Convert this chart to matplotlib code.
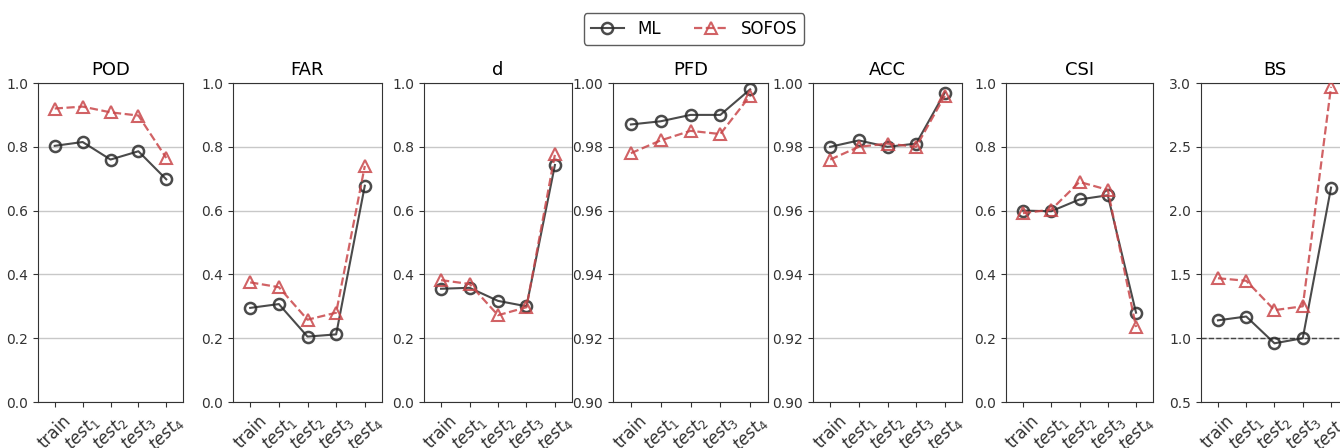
import numpy as np
import matplotlib
matplotlib.use("Agg")
import matplotlib.pyplot as plt

splits = ["train", "$test_1$", "$test_2$", "$test_3$", "$test_4$"]
metrics = ["POD", "FAR", "d", "PFD", "ACC", "CSI", "BS"]

ml = {
    "POD": [0.803, 0.815, 0.760, 0.786, 0.698],
    "FAR": [0.295, 0.307, 0.205, 0.212, 0.678],
    "d":   [0.355, 0.358, 0.317, 0.300, 0.743],
    "PFD": [0.987, 0.988, 0.990, 0.990, 0.998],
    "ACC": [0.980, 0.982, 0.980, 0.981, 0.997],
    "CSI": [0.600, 0.598, 0.635, 0.648, 0.280],
    "BS":  [1.14, 1.17, 0.96, 1.00, 2.18],
}
sofos = {
    "POD": [0.920, 0.926, 0.908, 0.898, 0.765],
    "FAR": [0.375, 0.360, 0.258, 0.280, 0.740],
    "d":   [0.382, 0.370, 0.272, 0.297, 0.776],
    "PFD": [0.978, 0.982, 0.985, 0.984, 0.996],
    "ACC": [0.976, 0.980, 0.981, 0.980, 0.996],
    "CSI": [0.592, 0.603, 0.690, 0.665, 0.235],
    "BS":  [1.47, 1.45, 1.22, 1.25, 2.97],
}

ylims = {"POD": (0, 1), "FAR": (0, 1), "d": (0, 1), "PFD": (0.9, 1.0),
         "ACC": (0.9, 1.0), "CSI": (0, 1), "BS": (0.5, 3.0)}
ysteps = {"POD": 0.2, "FAR": 0.2, "d": 0.2, "PFD": 0.02,
          "ACC": 0.02, "CSI": 0.2, "BS": 0.5}

# axes left/right edges in pixels (last panel runs off the canvas)
lefts = [38, 233, 424, 613, 813, 1006, 1201]
rights = [183, 382, 572, 768, 962, 1153, 1348]
W, H = 1340, 448

fig = plt.figure(figsize=(13.4, 4.48), dpi=100)
x = np.arange(len(splits))
handles = None
for i, m in enumerate(metrics):
    ax = fig.add_axes([lefts[i] / W, (H - 402) / H, (rights[i] - lefts[i]) / W, 319 / H])
    l1, = ax.plot(x, ml[m], color="#2b2b2b", alpha=0.85, lw=1.5, marker="o",
                  ms=8, mfc="none", mew=1.8, label="ML", zorder=3)
    l2, = ax.plot(x, sofos[m], color="#c9474a", alpha=0.85, lw=1.6, ls="--",
                  marker="^", ms=8, mfc="none", mew=1.5, label="SOFOS", zorder=3)
    handles = [l1, l2]
    if m == "BS":
        ax.axhline(1.0, color="#444444", lw=1, ls="--", zorder=2)
    lo, hi = ylims[m]
    ax.set_ylim(lo, hi)
    ax.set_yticks(np.round(np.arange(lo, hi + 1e-9, ysteps[m]), 2))
    if ysteps[m] < 0.1:
        ax.yaxis.set_major_formatter(matplotlib.ticker.FormatStrFormatter("%.2f"))
    else:
        ax.yaxis.set_major_formatter(matplotlib.ticker.FormatStrFormatter("%.1f"))
    ax.set_xlim(-0.6, 4.6)
    ax.set_xticks(x)
    ax.set_xticklabels(splits, rotation=45, fontsize=12)
    ax.tick_params(axis="y", labelsize=10, colors="#333333")
    ax.tick_params(axis="x", colors="#333333")
    ax.grid(axis="y", color="#c8c8c8", lw=1)
    ax.set_axisbelow(True)
    for s in ax.spines.values():
        s.set_color("#333333")
    ax.set_title(m, fontsize=13)

fig.legend(handles, ["ML", "SOFOS"], loc="center", bbox_to_anchor=(694 / W, 1 - 29 / H),
           ncol=2, fontsize=12, frameon=True, edgecolor="#333333", handlelength=2,
           columnspacing=2.0)
fig.savefig("out.png", dpi=100)
